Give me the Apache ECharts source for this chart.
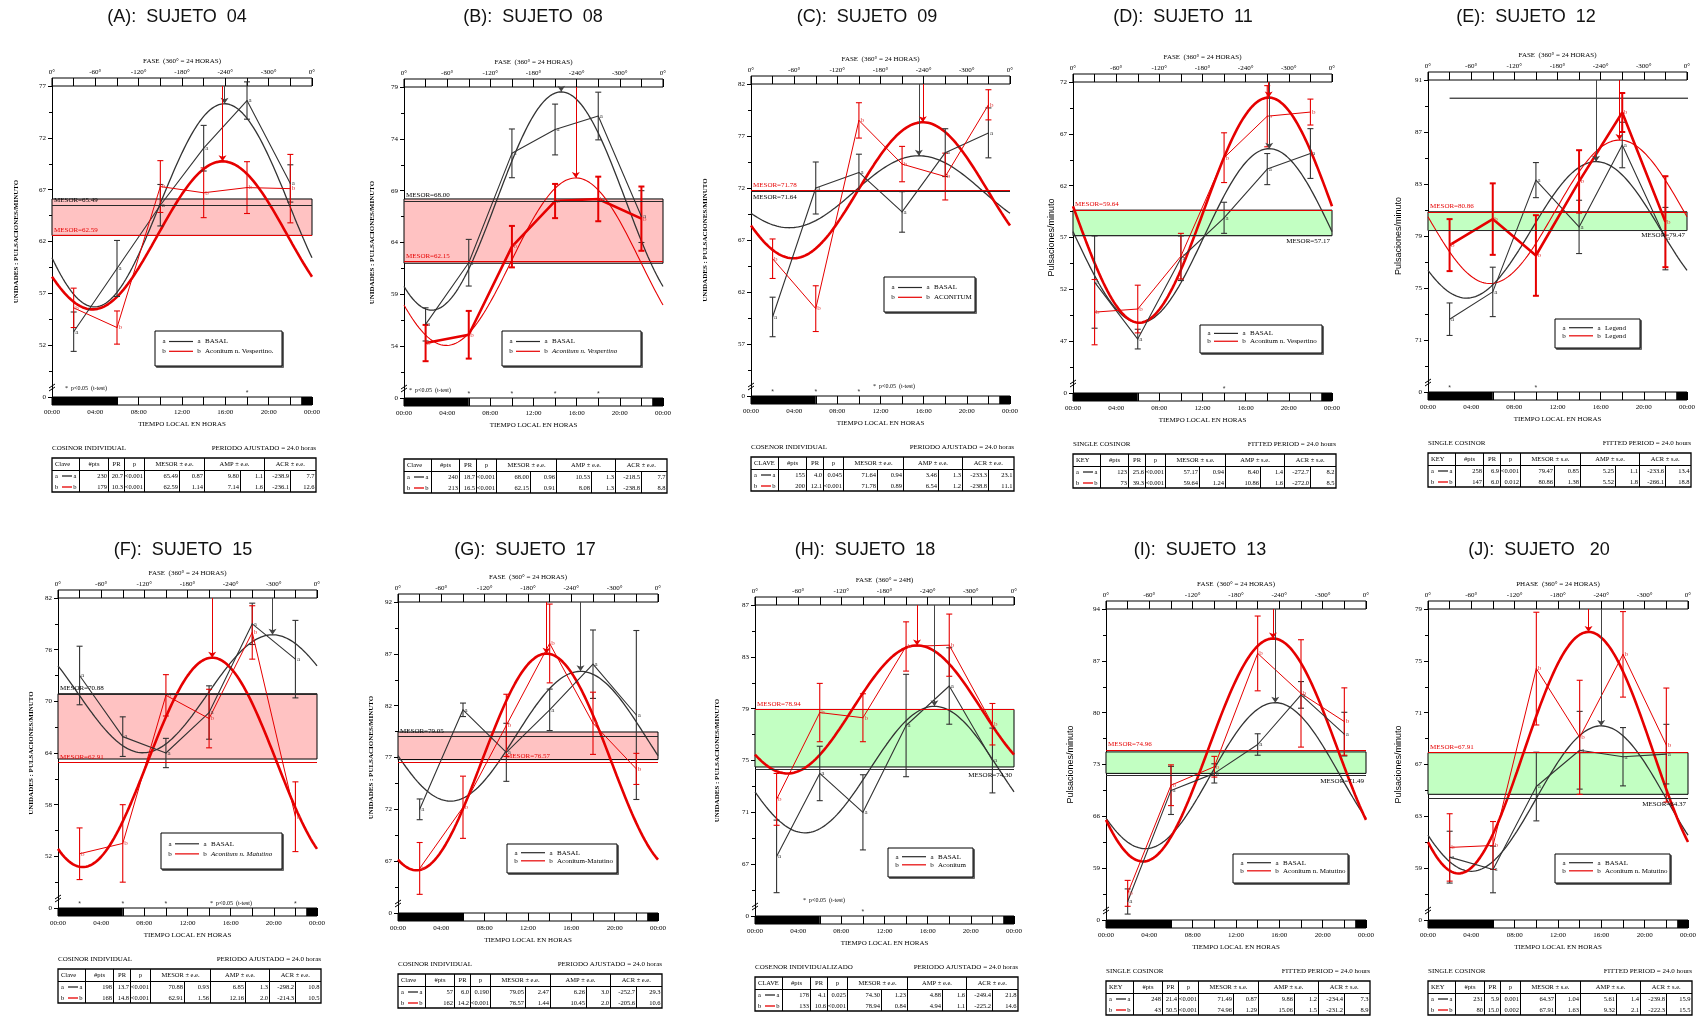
<!DOCTYPE html>
<html><head><meta charset="utf-8">
<script src="https://cdn.jsdelivr.net/npm/echarts@6/dist/echarts.min.js"></script>
<style>html,body{margin:0;padding:0;background:#fff}#c{width:1705px;height:1016px}</style>
</head><body><div id="c"></div>
<script>
// ---------------- DATA ----------------
const hours = [2, 6, 10, 14, 18, 22];
const panelTitles = ['(A):  SUJETO  04','(B):  SUJETO  08','(C):  SUJETO  09','(D):  SUJETO  11','(E):  SUJETO  12',
                     '(F):  SUJETO  15','(G):  SUJETO  17','(H):  SUJETO  18','(I):  SUJETO  13','(J):  SUJETO   20'];
const yMin  = [47, 49, 52, 42, 67, 46, 62, 63, 52, 55];
const yMax  = [77, 79, 82, 72, 91, 82, 92, 87, 94, 79];
const yStep = [5, 5, 5, 5, 4, 6, 5, 4, 7, 4];

const basalMean = [
  [53.3, 59.4, 65.5, 71.0, 75.6, 67.6],
  [56.1, 62.05, 72.6, 74.9, 76.2, 66.5],
  [59.6, 72.0, 73.5, 69.7, 75.4, 77.3],
  [52.7, 47.2, 55.0, 58.9, 63.6, 65.1],
  [72.6, 74.7, 83.3, 79.7, 86.0, 78.8],
  [73.0, 65.9, 64.0, 68.7, 79.0, 74.9],
  [72.0, 81.6, 77.5, 81.6, 86.0, 81.1],
  [67.6, 74.0, 71.0, 77.7, 80.75, 75.0],
  [54.5, 69.5, 71.8, 75.7, 82.4, 77.1],
  [59.85, 58.9, 65.3, 68.1, 67.6, 67.8]
];
const basalErr = [
  [1.9, 2.7, 2.0, 2.2, 1.8, 1.8],
  [1.6, 2.25, 2.35, 2.45, 2.3, 2.5],
  [1.9, 2.5, 1.75, 1.95, 2.3, 2.4],
  [4.45, 0.95, 2.15, 1.5, 1.5, 2.4],
  [1.25, 1.9, 1.35, 2.05, 1.75, 2.4],
  [3.4, 2.3, 1.7, 3.1, 2.4, 4.5],
  [1.0, 0.65, 2.8, 2.0, 3.3, 8.15],
  [2.8, 2.1, 2.9, 3.95, 2.95, 2.5],
  [1.7, 3.25, 1.3, 1.45, 1.8, 2.95],
  [2.0, 1.8, 2.65, 3.0, 2.25, 2.3]
];
const treatMean = [
  [55.6, 53.7, 67.3, 66.7, 67.2, 67.1],
  [54.3, 55.1, 63.6, 68.0, 68.2, 66.3],
  [65.2, 60.4, 78.5, 74.3, 73.1, 80.0],
  [49.8, 50.1, 55.2, 64.7, 68.7, 69.1],
  [78.3, 80.3, 77.5, 83.2, 88.5, 80.1],
  [52.3, 53.5, 70.7, 68.0, 78.0, 56.6],
  [66.3, 72.2, 80.1, 88.0, 80.3, 75.9],
  [72.0, 78.7, 78.3, 83.8, 83.9, 77.8],
  [55.6, 70.2, 72.7, 88.0, 82.6, 78.8],
  [60.6, 60.75, 74.4, 69.1, 75.5, 68.5]
];
const treatErr = [
  [1.9, 1.6, 2.5, 2.4, 2.5, 3.3],
  [1.75, 2.3, 2.0, 1.65, 2.15, 3.1],
  [1.9, 2.2, 1.7, 1.7, 2.25, 1.45],
  [3.15, 2.3, 2.2, 2.4, 2.95, 1.25],
  [2.0, 2.75, 3.1, 2.4, 1.5, 3.5],
  [3.0, 4.5, 2.4, 3.4, 3.1, 4.05],
  [2.5, 3.0, 3.0, 3.8, 3.0, 1.5],
  [2.0, 2.25, 1.85, 1.9, 2.4, 1.6],
  [1.75, 2.75, 1.4, 5.05, 7.25, 4.55],
  [2.6, 1.85, 4.35, 4.4, 3.3, 4.4]
];
// cosinor parameters (from the tables)
const mesorA = [65.49, 68.00, 71.64, 57.17, 79.47, 70.88, 79.05, 74.30, 71.49, 64.37];
const ampA   = [9.80, 10.53, 3.46, 8.40, 5.25, 6.85, 6.26, 4.88, 9.86, 5.61];
const acrA   = [-238.9, -218.5, -233.3, -272.7, -233.6, -298.2, -252.7, -249.4, -234.4, -239.8];
const mesorB = [62.59, 62.15, 71.78, 59.64, 80.86, 62.91, 76.57, 78.94, 74.96, 67.91];
const ampB   = [7.14, 8.08, 6.54, 10.86, 5.52, 12.16, 10.45, 4.94, 15.06, 9.32];
const acrB   = [-236.1, -238.8, -238.8, -272.0, -266.1, -214.3, -205.6, -225.2, -231.2, -222.3];
// shaded mesor bands
const bandLo = [62.59, 62.0, null, 57.17, 79.42, 63.3, 76.8, 74.5, 71.8, 64.7];
const bandHi = [66.1, 68.2, null, 59.64, 80.86, 70.88, 79.46, 78.94, 74.7, 67.91];
// significance marks (hours)
const sigHours = [[18], [6, 10, 14, 18], [2, 6, 10], [14], [2, 10], [2, 6, 10, 22], [], [10], [], []];
const darkPeriods = [[0, 6], [23, 24]];
const strayLineE = [[2, 89.6], [28, 89.6]];

const tableA = [
  ['230','20.7','<0.001','65.49','0.87','9.80','1.1','-238.9','7.7'],
  ['240','18.7','<0.001','68.00','0.96','10.53','1.3','-218.5','7.7'],
  ['155','4.0','0.045','71.64','0.94','3.46','1.3','-233.3','23.1'],
  ['123','25.6','<0.001','57.17','0.94','8.40','1.4','-272.7','8.2'],
  ['258','6.9','<0.001','79.47','0.85','5.25','1.1','-233.6','13.4'],
  ['198','13.7','<0.001','70.88','0.93','6.85','1.3','-298.2','10.8'],
  ['57','6.0','0.190','79.05','2.47','6.26','3.0','-252.7','29.3'],
  ['178','4.1','0.025','74.30','1.23','4.88','1.6','-249.4','21.8'],
  ['248','21.4','<0.001','71.49','0.87','9.86','1.2','-234.4','7.3'],
  ['231','5.9','0.001','64.37','1.04','5.61','1.4','-239.8','15.9']
];
const tableB = [
  ['179','10.3','<0.001','62.59','1.14','7.14','1.6','-236.1','12.6'],
  ['213','16.5','<0.001','62.15','0.91','8.08','1.3','-238.8','8.8'],
  ['200','12.1','<0.001','71.78','0.89','6.54','1.2','-238.8','11.1'],
  ['73','39.3','<0.001','59.64','1.24','10.86','1.6','-272.0','8.5'],
  ['147','6.0','0.012','80.86','1.38','5.52','1.8','-266.1','18.8'],
  ['168','14.8','<0.001','62.91','1.56','12.16','2.0','-214.3','10.5'],
  ['162','14.2','<0.001','76.57','1.44','10.45','2.0','-205.6','10.6'],
  ['133','10.6','<0.001','78.94','0.84','4.94','1.1','-225.2','14.6'],
  ['43','50.5','<0.001','74.96','1.29','15.06','1.5','-231.2','8.9'],
  ['80','15.0','0.002','67.91','1.63','9.32','2.1','-222.3','15.5']
];
const tableTitleL = ['COSINOR INDIVIDUAL','','COSENOR INDIVIDUAL','SINGLE COSINOR','SINGLE COSINOR',
                     'COSINOR INDIVIDUAL','COSINOR INDIVIDUAL','COSENOR INDIVIDUALIZADO','SINGLE COSINOR','SINGLE COSINOR'];
const tableTitleR = ['PERIODO AJUSTADO = 24.0 horas','','PERIODO AJUSTADO = 24.0 horas','FITTED PERIOD = 24.0 hours','FITTED PERIOD = 24.0 hours',
                     'PERIODO AJUSTADO = 24.0 horas','PERIODO AJUSTADO = 24.0 horas','PERIODO AJUSTADO = 24.0 horas','FITTED PERIOD = 24.0 hours','FITTED PERIOD = 24.0 hours'];
const keyHeader = ['Clave','Clave','CLAVE','KEY','KEY','Clave','Clave','CLAVE','KEY','KEY'];
const seHeader  = ['e.e.','e.e.','e.e.','s.e.','s.e.','e.e.','e.e.','e.e.','s.e.','s.e.'];
const legendA = ['BASAL','BASAL','BASAL','BASAL','Legend','BASAL','BASAL','BASAL','BASAL','BASAL'];
const legendB = ['Aconitum n. Vespertino.','Aconitum n. Vespertino','ACONITUM','Aconitum n. Vespertino','Legend',
                 'Aconitum n. Matutino','Aconitum-Matutino','Aconitum','Aconitum n. Matutino','Aconitum n. Matutino'];
const yAxisNames = ['UNIDADES : PULSACIONES/MINUTO','UNIDADES : PULSACIONES/MINUTO','UNIDADES : PULSACIONES/MINUTO',
                    'Pulsaciones/minuto','Pulsaciones/minuto','UNIDADES : PULSACIONES/MINUTO','UNIDADES : PULSACIONES/MINUTO',
                    'UNIDADES : PULSACIONES/MINUTO','Pulsaciones/minuto','Pulsaciones/minuto'];
const phaseNames = ['FASE  (360° = 24 HORAS)','FASE  (360° = 24 HORAS)','FASE  (360° = 24 HORAS)','FASE  (360° = 24 HORAS)','FASE  (360° = 24 HORAS)',
                    'FASE  (360° = 24 HORAS)','FASE  (360° = 24 HORAS)','FASE  (360° = 24H)','FASE  (360° = 24 HORAS)','PHASE  (360° = 24 HORAS)'];
const timeName = 'TIEMPO LOCAL EN HORAS';

// ---------------- LAYOUT / STYLE ----------------
const layout = [
  {box:[52,86,312,397],   tx:177,  ty:17,  gap:32, leg:[155,331,127,35], note:[13,-9]},
  {box:[404,87,663,398],  tx:533,  ty:17,  gap:28, leg:[502,331,139,35], note:[5,-8]},
  {box:[751,84,1010,396], tx:867,  ty:17,  gap:42, leg:[884,277,91,35],  note:[122,-10]},
  {box:[1073,82,1332,393],tx:1183, ty:17,  gap:17, leg:[1200,325,122,28],note:null},
  {box:[1428,80,1687,392],tx:1526, ty:17,  gap:25, leg:[1555,319,85,29], note:null},
  {box:[58,598,317,908],  tx:183,  ty:550, gap:23, leg:[161,833,121,36], note:[152,-5]},
  {box:[398,602,658,913], tx:525,  ty:550, gap:23, leg:[507,844,110,29], note:null},
  {box:[755,605,1014,916],tx:865,  ty:550, gap:34, leg:[888,848,85,29],  note:[48,-16]},
  {box:[1106,609,1366,920],tx:1200,ty:550, gap:31, leg:[1233,854,115,29],note:null},
  {box:[1428,609,1688,920],tx:1539,ty:550, gap:25, leg:[1555,854,115,29],note:null}
];
const bandColor = ['#ffc2c2','#ffc2c2',null,'#c2ffc2','#c2ffc2','#ffc2c2','#ffc2c2','#c2ffc2','#c2ffc2','#c2ffc2'];
const thickRedPoly = [0,1,0,0,1,0,0,0,0,0];
const legendItalic = [0,1,0,0,0,1,0,0,0,0];
const posA = ['insideStartTop','insideStartTop','insideStartBottom','insideEndBottom','insideEndBottom','insideStartTop','insideStartTop','insideEndBottom','insideEndBottom','insideEndBottom'];
const posB = ['insideStartTop','insideStartTop','insideStartTop','insideStartTop','insideStartTop','insideStartTop','insideMiddleTop','insideStartTop','insideStartTop','insideStartTop'];
const C_BLACK = '#2a2a2a', C_RED = '#e60000';
const SERIF = '"Liberation Serif", "DejaVu Serif", serif';
const SANS = '"Liberation Sans", Arial, sans-serif';
const curveHours = Array.from({length: 121}, (_, k) => k * 0.2);

// ---------------- HELPERS ----------------
const G = [];
function gText(text, x, y, o) {
  o = o || {};
  G.push({type:'text', silent:true, z:100, style:{text:text, x:x, y:y, fill:o.color || '#000',
    font:(o.italic ? 'italic ' : '') + (o.weight || 'normal') + ' ' + (o.size || 7) + 'px ' + (o.family || SERIF),
    textAlign:o.align || 'left', textVerticalAlign:o.va || 'middle', align:o.align || 'left', verticalAlign:o.va || 'middle'}});
}
function gLine(x1, y1, x2, y2, color, w) {
  G.push({type:'line', silent:true, z:100, shape:{x1:x1, y1:y1, x2:x2, y2:y2}, style:{stroke:color || '#000', lineWidth:w || 1}});
}
function gRect(x, y, w, h, fill, stroke, lw) {
  G.push({type:'rect', silent:true, z:99, shape:{x:x, y:y, width:w, height:h}, style:{fill:fill || 'none', stroke:stroke || '#000', lineWidth:lw || 1}});
}
function cosinor(M, A, acr) {
  return curveHours.map(t => [t, M + A * Math.cos(2 * Math.PI * t / 24 + acr * Math.PI / 180)]);
}
function errRender(color, lw) {
  return function (params, api) {
    const x = api.value(0);
    const pLo = api.coord([x, api.value(1)]);
    const pHi = api.coord([x, api.value(2)]);
    const c = 3, st = {stroke: color, lineWidth: lw};
    return {type:'group', children:[
      {type:'line', shape:{x1:pLo[0], y1:pLo[1], x2:pHi[0], y2:pHi[1]}, style:st},
      {type:'line', shape:{x1:pLo[0]-c, y1:pLo[1], x2:pLo[0]+c, y2:pLo[1]}, style:st},
      {type:'line', shape:{x1:pHi[0]-c, y1:pHi[1], x2:pHi[0]+c, y2:pHi[1]}, style:st}
    ]};
  };
}
const colFrac = [0.101,0.110,0.061,0.078,0.130,0.097,0.134,0.091,0.101,0.097];
function drawTable(i) {
  const [L, T, R, B] = layout[i].box;
  const x0 = L, x1 = R + 4, y0 = B + 61, W = x1 - x0;
  const hH = 12, rH = 11, H = hH + 2 * rH;
  const fs = 6.5;
  if (tableTitleL[i]) gText(tableTitleL[i], x0, B + 51);
  if (tableTitleR[i]) gText(tableTitleR[i], x1, B + 51, {align:'right'});
  gRect(x0, y0, W, H, '#fff', '#000', 1.3);
  const xs = [x0]; let acc = x0;
  colFrac.forEach(f => { acc += f * W; xs.push(Math.round(acc) + 0.5); });
  xs[10] = x1;
  gLine(x0, y0 + hH + 0.5, x1, y0 + hH + 0.5, '#000', 1);
  [1,2,3,4,6,8].forEach(c => gLine(xs[c], y0, xs[c], y0 + hH));
  for (let c = 1; c < 10; c++) gLine(xs[c], y0 + hH, xs[c], y0 + H);
  gText(keyHeader[i], xs[0] + 3, y0 + hH / 2, {size:fs});
  const heads = [[1,2,'#pts'],[2,3,'PR'],[3,4,'p'],[4,6,'MESOR ± ' + seHeader[i]],[6,8,'AMP ± ' + seHeader[i]],[8,10,'ACR ± ' + seHeader[i]]];
  heads.forEach(([a, b, t]) => gText(t, (xs[a] + xs[b]) / 2, y0 + hH / 2, {align:'center', size:fs}));
  [[tableA[i], 'a', C_BLACK], [tableB[i], 'b', C_RED]].forEach(([row, key, col], r) => {
    const yc = y0 + hH + rH * r + rH / 2 + 0.5;
    gText(key, xs[0] + 3, yc, {size:fs});
    gLine(xs[0] + 10, yc, xs[0] + 20, yc, col, 1.3);
    gText(key, xs[1] - 3, yc, {align:'right', size:fs});
    row.forEach((v, c) => gText(v, xs[c + 2] - 1.5, yc, {align:'right', size:fs}));
  });
}
function drawLegend(i) {
  const [x, y, w, h] = layout[i].leg;
  gRect(x + 1.5, y + 1.5, w, h, '#666', '#666', 1);
  gRect(x, y, w, h, '#fff', '#000', 1);
  [[legendA[i], 'a', C_BLACK, false], [legendB[i], 'b', C_RED, legendItalic[i]]].forEach(([lab, k, col, it], r) => {
    const yc = y + h * (r === 0 ? 0.3 : 0.58);
    gText(k, x + 9, yc, {align:'center'});
    gLine(x + 14, yc, x + 38, yc, col, 1.2);
    gText(k, x + 44, yc, {align:'center'});
    gText(lab, x + 50, yc, {italic: !!it});
  });
}

// ---------------- OPTION ----------------
const option = {animation:false, backgroundColor:'#fff', grid:[], xAxis:[], yAxis:[], series:[], graphic:{elements:G}};

for (let i = 0; i < 10; i++) {
  const lay = layout[i];
  const [L, T, R, B] = lay.box;
  const W = R - L, H = B - T;
  const gM = 3 * i, gP = 3 * i + 1, gT = 3 * i + 2;
  const ax = g => ({xAxisIndex:g, yAxisIndex:g});
  const isSans = yAxisNames[i] === 'Pulsaciones/minuto';

  option.grid.push({left:L, top:T, width:W, height:H, show:false});
  option.grid.push({left:L, top:T - 8, width:W, height:8, show:true, backgroundColor:'#fff', borderColor:'#000', borderWidth:1});
  option.grid.push({left:L, top:B, width:W, height:8, show:true, backgroundColor:'#fff', borderColor:'#000', borderWidth:1});

  option.xAxis.push({gridIndex:gM, type:'value', min:0, max:24, show:false});
  option.xAxis.push({gridIndex:gP, type:'value', min:0, max:24, interval:2, position:'top',
    axisLine:{show:false}, axisTick:{show:false},
    splitLine:{show:true, lineStyle:{color:'#000', width:1}},
    axisLabel:{fontSize:7, fontFamily:SERIF, color:'#000', margin:2, showMinLabel:true, showMaxLabel:true, hideOverlap:false,
      formatter: v => (v % 4 === 0) ? ((v % 24 === 0) ? '0°' : '-' + (v * 15) + '°') : ''},
    name:phaseNames[i], nameLocation:'middle', nameGap:13, nameTextStyle:{fontSize:7, fontFamily:SERIF, color:'#000'}});
  option.xAxis.push({gridIndex:gT, type:'value', min:0, max:24, interval:2, position:'bottom',
    axisLine:{show:false}, axisTick:{show:false},
    splitLine:{show:true, lineStyle:{color:'#000', width:1}},
    axisLabel:{fontSize:7, fontFamily:SERIF, color:'#000', margin:4, showMinLabel:true, showMaxLabel:true, hideOverlap:false,
      formatter: v => (v % 4 === 0) ? (String(v % 24).padStart(2, '0') + ':00') : ''},
    name:timeName, nameLocation:'middle', nameGap:16, nameTextStyle:{fontSize:7, fontFamily:SERIF, color:'#000'}});

  option.yAxis.push({gridIndex:gM, type:'value', min:yMin[i], max:yMax[i], interval:yStep[i],
    axisLine:{show:true, lineStyle:{color:'#000', width:1}},
    axisTick:{show:true, length:4, lineStyle:{color:'#000'}},
    minorTick:{show:true, splitNumber:2, length:3, lineStyle:{color:'#000'}},
    splitLine:{show:false}, minorSplitLine:{show:false},
    axisLabel:{fontSize:7, fontFamily:SERIF, color:'#000', margin:6, showMinLabel:true, showMaxLabel:true,
      formatter: v => (Math.abs(v - yMin[i]) < 1e-6) ? '0' : String(Math.round(v))},
    name:yAxisNames[i], nameLocation:'middle', nameRotate:90, nameGap:lay.gap,
    nameTextStyle: isSans ? {fontSize:9, fontFamily:SANS, color:'#000'} : {fontSize:7, fontFamily:SERIF, color:'#000', fontWeight:'bold'}});
  option.yAxis.push({gridIndex:gP, type:'value', min:0, max:1, show:false});
  option.yAxis.push({gridIndex:gT, type:'value', min:0, max:1, show:false});

  // mesor band
  option.series.push({type:'line', ...ax(gM), data:[[0, yMin[i]]], symbol:'none', lineStyle:{opacity:0}, silent:true, z:1,
    markArea: bandLo[i] == null ? undefined : {silent:true, itemStyle:{color:bandColor[i], borderColor:'#000', borderWidth:1},
      data:[[{coord:[0, bandLo[i]]}, {coord:[24, bandHi[i]]}]]}});

  // mesor lines + acrophase arrows
  const tA = -acrA[i] / 15, tB = -acrB[i] / 15;
  const lsA = {color:C_BLACK, width:1.2, type:'solid'}, lsB = {color:C_RED, width:1.2, type:'solid'};
  const arA = {color:'#444', width:1, type:'solid'}, arB = {color:C_RED, width:1, type:'solid'};
  option.series.push({type:'line', ...ax(gM), data:[[0, yMin[i]]], symbol:'none', lineStyle:{opacity:0}, silent:true, z:2,
    markLine:{silent:true, symbol:['none','none'], label:{show:false}, animation:false, data:[
      {yAxis:mesorA[i], lineStyle:lsA, label:{show:true, formatter:'MESOR=' + mesorA[i].toFixed(2), position:posA[i], distance:2, color:'#000', fontSize:7, fontFamily:SERIF}},
      {yAxis:mesorB[i], lineStyle:lsB, label:{show:true, formatter:'MESOR=' + mesorB[i].toFixed(2), position:posB[i], distance:2, color:C_RED, fontSize:7, fontFamily:SERIF}},
      [{coord:[tA, yMax[i]], symbol:'none', lineStyle:arA}, {coord:[tA, mesorA[i] + ampA[i]], symbol:'arrow', symbolSize:6, lineStyle:arA}],
      [{coord:[tB, yMax[i]], symbol:'none', lineStyle:arB}, {coord:[tB, mesorB[i] + ampB[i]], symbol:'arrow', symbolSize:6, lineStyle:arB}]
    ]}});

  // fitted cosine curves
  option.series.push({type:'line', ...ax(gM), data:cosinor(mesorA[i], ampA[i], acrA[i]), showSymbol:false, silent:true, z:3,
    lineStyle:{color:'#333', width:1.3}});
  option.series.push({type:'line', ...ax(gM), data:cosinor(mesorB[i], ampB[i], acrB[i]), showSymbol:false, silent:true, z:3,
    lineStyle:{color:C_RED, width:thickRedPoly[i] ? 1.1 : 2.6}});

  // observed means (polylines) with letters
  option.series.push({type:'line', ...ax(gM), data:hours.map((h, k) => [h, basalMean[i][k]]), symbol:'circle', symbolSize:1,
    showSymbol:true, silent:true, z:4, itemStyle:{color:'#333'}, lineStyle:{color:'#333', width:1.1},
    label:{show:true, formatter:'a', position:'right', distance:1, fontSize:7, fontFamily:SERIF, color:'#444'}});
  option.series.push({type:'line', ...ax(gM), data:hours.map((h, k) => [h, treatMean[i][k]]), symbol:'circle', symbolSize:1,
    showSymbol:true, silent:true, z:4, itemStyle:{color:C_RED}, lineStyle:{color:C_RED, width:thickRedPoly[i] ? 2.6 : 1},
    label:{show:true, formatter:'b', position:'right', distance:1, fontSize:7, fontFamily:SERIF, color:'#e04040'}});

  // error bars
  option.series.push({type:'custom', ...ax(gM), silent:true, z:4, clip:false, renderItem:errRender('#333', 1.1),
    encode:{x:0, y:[1, 2]}, data:hours.map((h, k) => [h, basalMean[i][k] - basalErr[i][k], basalMean[i][k] + basalErr[i][k]])});
  option.series.push({type:'custom', ...ax(gM), silent:true, z:4, clip:false, renderItem:errRender(C_RED, thickRedPoly[i] ? 2 : 1.1),
    encode:{x:0, y:[1, 2]}, data:hours.map((h, k) => [h, treatMean[i][k] - treatErr[i][k], treatMean[i][k] + treatErr[i][k]])});

  // significance asterisks
  if (sigHours[i].length) {
    option.series.push({type:'scatter', ...ax(gM), silent:true, z:5, symbolSize:1, itemStyle:{color:'rgba(0,0,0,0)'},
      data:sigHours[i].map(h => [h, yMin[i]]),
      label:{show:true, formatter:'*', position:'top', distance:0, fontSize:7, color:'#000'}});
  }
  if (i === 4) {
    option.series.push({type:'line', ...ax(gM), data:strayLineE, symbol:'none', silent:true, clip:false, z:3,
      lineStyle:{color:'#000', width:1}});
  }

  // light/dark bar
  option.series.push({type:'line', ...ax(gT), data:[[0, 0]], symbol:'none', lineStyle:{opacity:0}, silent:true, z:2,
    markArea:{silent:true, itemStyle:{color:'#000'}, data:darkPeriods.map(p => [{coord:[p[0], 0]}, {coord:[p[1], 1]}])}});

  // texts and decorations
  gText(panelTitles[i], lay.tx, lay.ty, {align:'center', size:18, family:SANS, color:'#111'});
  gLine(L - 3, B - 9, L + 3, B - 13, '#000', 1);
  gLine(L - 3, B - 6, L + 3, B - 10, '#000', 1);
  if (lay.note) gText('*  p<0.05  (t-test)', L + lay.note[0], B + lay.note[1], {size:6});
  drawLegend(i);
  drawTable(i);
}

const chart = echarts.init(document.getElementById('c'), null, {renderer:'canvas'});
chart.setOption(option);
</script>
</body></html>
